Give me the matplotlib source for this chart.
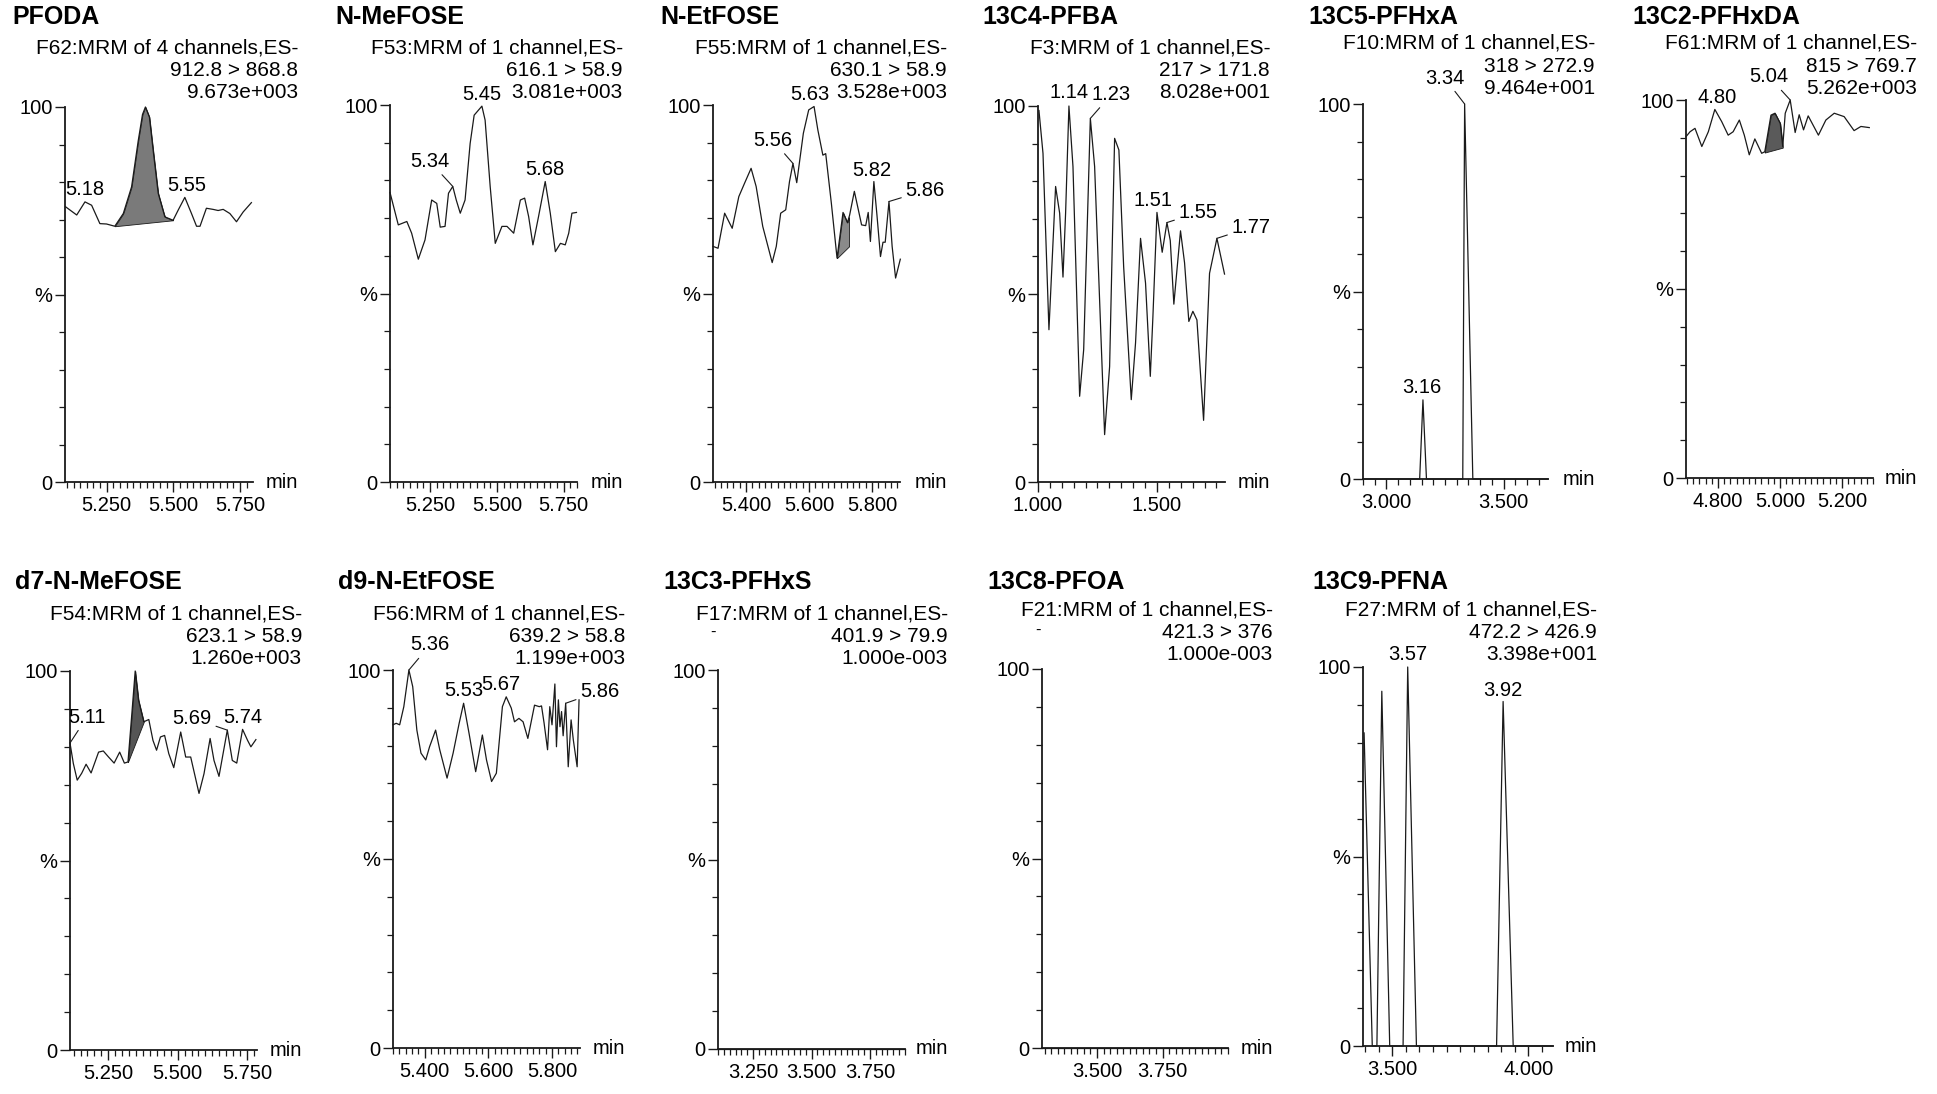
import numpy as np
import matplotlib.pyplot as plt
from matplotlib.ticker import MultipleLocator, FixedLocator

plt.rcParams['font.family'] = ['Liberation Sans', 'DejaVu Sans']

W, H = 1937, 1094

# ---------------- data: retention time (min) / relative intensity (%) ----------------
pfoda_t = [5.095, 5.137, 5.168, 5.193, 5.224, 5.249, 5.280, 5.312, 5.343, 5.368, 5.384, 5.395,
           5.410, 5.424, 5.443, 5.468, 5.499, 5.518, 5.543, 5.568, 5.587, 5.600, 5.624, 5.649,
           5.668, 5.687, 5.712, 5.737, 5.762, 5.793]
pfoda_i = [73.4, 71.2, 74.7, 73.8, 68.9, 68.8, 68.2, 71.6, 78.7, 91.0, 98.0, 100.0,
           97.3, 88.5, 77.0, 70.7, 69.8, 72.5, 75.9, 71.6, 68.2, 68.2, 73.0, 72.7,
           72.4, 72.7, 71.6, 69.4, 72.0, 74.5]

mefose_t = [5.100, 5.131, 5.163, 5.181, 5.206, 5.231, 5.256, 5.275, 5.288, 5.306, 5.319, 5.335,
            5.348, 5.363, 5.381, 5.400, 5.415, 5.444, 5.456, 5.475, 5.494, 5.519, 5.538, 5.563,
            5.588, 5.604, 5.619, 5.635, 5.656, 5.681, 5.700, 5.719, 5.738, 5.756, 5.769, 5.781, 5.798]
mefose_i = [76.8, 68.2, 69.1, 66.0, 59.1, 64.2, 74.8, 73.9, 67.6, 67.8, 76.6, 78.4,
            74.8, 71.3, 74.8, 89.8, 97.3, 99.7, 96.0, 78.4, 63.3, 67.8, 67.8, 66.0,
            74.8, 75.3, 70.4, 62.9, 70.4, 79.7, 71.3, 61.1, 63.3, 62.9, 66.0, 71.3, 71.5]

etfose_t = [5.295, 5.311, 5.332, 5.356, 5.377, 5.395, 5.416, 5.432, 5.453, 5.483, 5.496, 5.510,
            5.526, 5.538, 5.549, 5.561, 5.582, 5.599, 5.616, 5.628, 5.644, 5.653, 5.671, 5.689,
            5.708, 5.722, 5.729, 5.744, 5.767, 5.780, 5.788, 5.795, 5.806, 5.816, 5.827, 5.835,
            5.842, 5.854, 5.864, 5.875, 5.890]
etfose_i = [62.5, 62.0, 71.3, 67.3, 75.7, 79.2, 83.2, 78.4, 67.8, 58.2, 62.5, 71.3,
            72.2, 79.7, 84.5, 79.4, 92.5, 98.7, 99.6, 93.4, 86.7, 87.1, 73.9, 59.4,
            71.5, 68.8, 70.8, 77.1, 68.2, 68.0, 71.5, 63.8, 79.7, 70.6, 59.8, 63.6,
            63.6, 74.4, 62.5, 54.1, 59.1]

pfba_t = [1.004, 1.021, 1.046, 1.074, 1.091, 1.105, 1.116, 1.130, 1.147, 1.175, 1.192, 1.220,
          1.238, 1.280, 1.301, 1.322, 1.340, 1.360, 1.392, 1.410, 1.431, 1.452, 1.472, 1.483,
          1.500, 1.522, 1.542, 1.556, 1.571, 1.599, 1.616, 1.634, 1.651, 1.668, 1.696, 1.721,
          1.752, 1.784]
pfba_i = [98.8, 87.4, 40.5, 78.6, 71.5, 54.5, 71.5, 100.0, 83.9, 22.8, 35.2, 96.7,
          83.9, 12.6, 30.7, 91.4, 88.3, 57.3, 21.9, 37.0, 64.8, 52.9, 28.1, 44.0,
          71.7, 61.1, 69.0, 64.2, 47.3, 66.8, 58.3, 42.7, 45.4, 43.1, 16.4, 55.5,
          64.8, 55.3]

pfhxa_t = [2.900, 3.142, 3.156, 3.171, 3.326, 3.334, 3.369, 3.690]
pfhxa_i = [0.0, 0.0, 21.1, 0.0, 0.0, 100.0, 0.0, 0.0]

pfhxda_t = [4.697, 4.710, 4.726, 4.748, 4.769, 4.790, 4.812, 4.833, 4.849, 4.869, 4.885, 4.901,
            4.919, 4.941, 4.951, 4.971, 4.984, 5.001, 5.009, 5.017, 5.033, 5.049, 5.062, 5.076,
            5.091, 5.124, 5.148, 5.175, 5.207, 5.239, 5.261, 5.288]
pfhxda_i = [90.3, 91.6, 92.5, 87.7, 91.6, 97.5, 94.3, 90.7, 91.6, 94.7, 90.7, 85.5,
            89.7, 85.9, 86.3, 96.0, 96.5, 93.8, 87.7, 96.5, 100.0, 91.4, 96.1, 92.1,
            95.8, 90.7, 94.7, 96.5, 95.6, 91.9, 93.0, 92.7]

d7_t = [5.112, 5.124, 5.138, 5.154, 5.170, 5.188, 5.215, 5.232, 5.251, 5.271, 5.291, 5.308,
        5.321, 5.335, 5.347, 5.359, 5.378, 5.396, 5.411, 5.424, 5.438, 5.453, 5.468, 5.486,
        5.511, 5.529, 5.547, 5.577, 5.595, 5.617, 5.631, 5.649, 5.679, 5.697, 5.713, 5.734,
        5.752, 5.764, 5.782]
d7_i = [81.0, 75.6, 71.2, 73.0, 75.4, 73.1, 78.6, 78.9, 77.3, 75.7, 78.6, 75.7,
        76.0, 88.8, 100.0, 92.3, 86.6, 87.2, 81.7, 79.1, 82.6, 83.0, 78.2, 74.5,
        83.9, 77.3, 77.3, 67.7, 72.9, 82.2, 76.4, 72.2, 84.4, 76.4, 75.7, 84.6,
        81.7, 80.0, 81.9]

d9_t = [5.300, 5.310, 5.321, 5.334, 5.350, 5.362, 5.375, 5.388, 5.403, 5.415, 5.434, 5.447,
        5.470, 5.489, 5.508, 5.522, 5.539, 5.560, 5.581, 5.594, 5.610, 5.625, 5.644, 5.656,
        5.672, 5.682, 5.696, 5.709, 5.724, 5.745, 5.760, 5.767, 5.775, 5.786, 5.793, 5.800,
        5.809, 5.814, 5.820, 5.825, 5.830, 5.835, 5.843, 5.851, 5.860, 5.867, 5.879, 5.885]
d9_i = [85.5, 85.9, 85.5, 90.3, 100.0, 95.6, 84.1, 78.0, 76.2, 79.7, 84.1, 78.9,
        71.4, 78.0, 85.9, 91.2, 83.3, 73.1, 82.8, 76.2, 70.5, 72.7, 90.3, 92.9,
        89.9, 86.3, 87.2, 86.3, 81.9, 90.7, 90.3, 90.5, 86.0, 78.9, 90.3, 85.5,
        96.3, 79.7, 92.1, 85.0, 89.0, 82.6, 91.2, 74.4, 86.8, 81.5, 74.4, 92.1]

pfhxs_t = [3.100, 3.900]
pfhxs_i = [0.0, 0.0]

pfoa_t = [3.290, 4.000]
pfoa_i = [0.0, 0.0]

pfna_t = [3.397, 3.427, 3.444, 3.462, 3.491, 3.540, 3.557, 3.589, 3.883, 3.907, 3.944, 4.090]
pfna_i = [82.6, 0.0, 0.0, 93.6, 0.0, 0.0, 100.0, 0.0, 0.0, 90.9, 0.0, 0.0]

# ---------------- panel text ----------------
titles = ['PFODA', 'N-MeFOSE', 'N-EtFOSE', '13C4-PFBA', '13C5-PFHxA', '13C2-PFHxDA',
          'd7-N-MeFOSE', 'd9-N-EtFOSE', '13C3-PFHxS', '13C8-PFOA', '13C9-PFNA']
functions = ['F62:MRM of 4 channels,ES-', 'F53:MRM of 1 channel,ES-', 'F55:MRM of 1 channel,ES-',
             'F3:MRM of 1 channel,ES-', 'F10:MRM of 1 channel,ES-', 'F61:MRM of 1 channel,ES-',
             'F54:MRM of 1 channel,ES-', 'F56:MRM of 1 channel,ES-', 'F17:MRM of 1 channel,ES-',
             'F21:MRM of 1 channel,ES-', 'F27:MRM of 1 channel,ES-']
transitions = ['912.8 > 868.8', '616.1 > 58.9', '630.1 > 58.9', '217 > 171.8', '318 > 272.9',
               '815 > 769.7', '623.1 > 58.9', '639.2 > 58.8', '401.9 > 79.9', '421.3 > 376',
               '472.2 > 426.9']
intensities = ['9.673e+003', '3.081e+003', '3.528e+003', '8.028e+001', '9.464e+001', '5.262e+003',
               '1.260e+003', '1.199e+003', '1.000e-003', '1.000e-003', '3.398e+001']

# peak labels: (text, rt, height, dx px, dy px, leader line)
peaks = [
    [('5.18', 5.168, 74.7, 0, 12, False), ('5.55', 5.543, 75.9, 2, 12, False)],
    [('5.34', 5.335, 78.4, -23, 25, True), ('5.45', 5.444, 99.7, 0, 12, False),
     ('5.68', 5.681, 79.7, 0, 12, False)],
    [('5.56', 5.549, 84.5, -20, 23, True), ('5.63', 5.616, 99.6, -4, 12, False),
     ('5.82', 5.806, 79.7, -2, 11, False), ('5.86', 5.854, 74.4, 36, 11, True)],
    [('1.14', 1.130, 100.0, 0, 13, False), ('1.23', 1.220, 96.7, 21, 24, True),
     ('1.51', 1.500, 71.7, -4, 12, False), ('1.55', 1.542, 69.0, 31, 10, True),
     ('1.77', 1.752, 64.8, 34, 11, True)],
    [('3.16', 3.156, 21.1, -1, 12, False), ('3.34', 3.334, 100.0, -20, 26, True)],
    [('4.80', 4.790, 97.5, 2, 12, False), ('5.04', 5.033, 100.0, -21, 23, True)],
    [('5.11', 5.112, 81.0, 17, 26, True), ('5.69', 5.679, 84.4, -35, 12, True),
     ('5.74', 5.734, 84.6, 0, 12, False)],
    [('5.36', 5.350, 100.0, 21, 25, True), ('5.53', 5.522, 91.2, 0, 13, False),
     ('5.67', 5.656, 92.9, -5, 12, False), ('5.86', 5.843, 91.2, 34, 12, True)],
    [],
    [],
    [('3.57', 3.557, 100.0, 0, 12, False), ('3.92', 3.907, 90.9, 0, 11, False)],
]

# integrated (shaded) windows: (t0, y0, t1, y1) baseline ends
shades = [(5.280, 68.2, 5.499, 69.8), None, (5.689, 59.4, 5.727, 62.5), None, None,
          (4.951, 86.1, 5.009, 87.4), (5.321, 76.0, 5.378, 86.6), None, None, None, None]
shade_colors = ['#7a7a7a', None, '#8a8a8a', None, None, '#5a5a5a', '#555555', None, None, None, None]

series = [(pfoda_t, pfoda_i), (mefose_t, mefose_i), (etfose_t, etfose_i), (pfba_t, pfba_i),
          (pfhxa_t, pfhxa_i), (pfhxda_t, pfhxda_i), (d7_t, d7_i), (d9_t, d9_i),
          (pfhxs_t, pfhxs_i), (pfoa_t, pfoa_i), (pfna_t, pfna_i)]

xlims = [(5.093, 5.799), (5.10, 5.80), (5.295, 5.889), (1.0, 1.786), (2.90, 3.69), (4.697, 5.30),
         (5.112, 5.786), (5.30, 5.888), (3.10, 3.90), (3.29, 4.0), (3.393, 4.09)]
major_ticks = [[5.25, 5.5, 5.75], [5.25, 5.5, 5.75], [5.4, 5.6, 5.8], [1.0, 1.5], [3.0, 3.5],
               [4.8, 5.0, 5.2], [5.25, 5.5, 5.75], [5.4, 5.6, 5.8], [3.25, 3.5, 3.75],
               [3.5, 3.75], [3.5, 4.0]]
minor_steps = [0.025, 0.025, 0.02, 0.05, 0.05, 0.02, 0.025, 0.02, 0.025, 0.025, 0.05]

# ---------------- layout in pixels ----------------
# axes: (x_left, y_top, x_right, y_bottom)
axes_px = [(65, 107, 253, 482), (390, 105, 577, 482), (713, 105, 900, 482), (1038, 106, 1225, 482),
           (1363, 104, 1548, 479), (1686, 100, 1873, 478),
           (70, 671, 257, 1050), (393, 670, 580, 1048), (718, 670, 905, 1049),
           (1042, 669, 1228, 1048), (1363, 667, 1553, 1046)]
title_px = [(12, 17), (335, 17), (660, 17), (982, 17), (1308, 17), (1632, 17),
            (15, 582), (338, 582), (663, 582), (987, 582), (1312, 582)]
header_right = [298, 623, 947, 1270, 1595, 1917, 302, 625, 948, 1273, 1597]
header_y = [(48, 70, 93)] * 4 + [(43, 66, 88)] * 2 + [(614, 636, 658)] * 3 + [(610, 632, 655)] * 2

fig = plt.figure(figsize=(W / 100, H / 100), dpi=100)
fig.patch.set_facecolor('white')


def fx(px):
    return px / W


def fy(py):
    return 1 - py / H


ink = '#1a1a1a'
for k in range(11):
    x0, y1, x1, y0 = axes_px[k]
    ax = fig.add_axes([fx(x0), fy(y0), (x1 - x0) / W, (y0 - y1) / H])
    t, inten = series[k]
    ax.plot(t, inten, color=ink, lw=0.9, clip_on=False, zorder=3)

    sh = shades[k]
    if sh is not None:
        tt = np.linspace(sh[0], sh[2], 60)
        top = np.interp(tt, t, inten)
        base = np.interp(tt, [sh[0], sh[2]], [sh[1], sh[3]])
        ax.fill_between(tt, base, top, facecolor=shade_colors[k], edgecolor=ink, lw=0.6, zorder=2)

    for txt, rt, hh, dx, dy, lead in peaks[k]:
        ax.annotate(txt, xy=(rt, hh), xytext=(dx * 0.72, dy * 0.72), textcoords='offset points',
                    ha='center', va='center', fontsize=14.5, color='black', annotation_clip=False,
                    arrowprops=dict(arrowstyle='-', lw=0.8, color=ink, shrinkA=1, shrinkB=0) if lead else None)

    ax.set_xlim(*xlims[k])
    ax.set_ylim(0, 100)
    for s in ['top', 'right']:
        ax.spines[s].set_visible(False)
    for s in ['left', 'bottom']:
        ax.spines[s].set_linewidth(1.3)
        ax.spines[s].set_color(ink)
    ax.set_facecolor('none')

    ax.xaxis.set_major_locator(FixedLocator(major_ticks[k]))
    ax.xaxis.set_minor_locator(MultipleLocator(minor_steps[k]))
    ax.set_xticklabels(['%.3f' % v for v in major_ticks[k]])
    ax.yaxis.set_major_locator(FixedLocator([0, 50, 100]))
    ax.yaxis.set_minor_locator(MultipleLocator(10))
    ax.set_yticklabels(['0', '%', '100'])
    ax.tick_params(axis='both', which='major', direction='out', length=7, width=1.0, color=ink,
                   labelsize=14.5, pad=2)
    ax.tick_params(axis='both', which='minor', direction='out', length=4.5, width=0.9, color=ink)
    ax.tick_params(axis='x', which='major', pad=3)

    # title and acquisition header
    fig.text(fx(title_px[k][0]), fy(title_px[k][1]), titles[k], fontsize=18, fontweight='bold',
             ha='left', va='center')
    for line, yy in zip([functions[k], transitions[k], intensities[k]], header_y[k]):
        fig.text(fx(header_right[k]), fy(yy), line, fontsize=15, ha='right', va='center')
    fig.text(fx(header_right[k]), fy(y0), 'min', fontsize=14.5, ha='right', va='center')

# stray dashes printed on the second header line of the empty traces
fig.text(fx(713), fy(632), '-', fontsize=12, ha='center', va='center')
fig.text(fx(1038), fy(630), '-', fontsize=12, ha='center', va='center')

fig.savefig('out.png', dpi=100, facecolor='white')
